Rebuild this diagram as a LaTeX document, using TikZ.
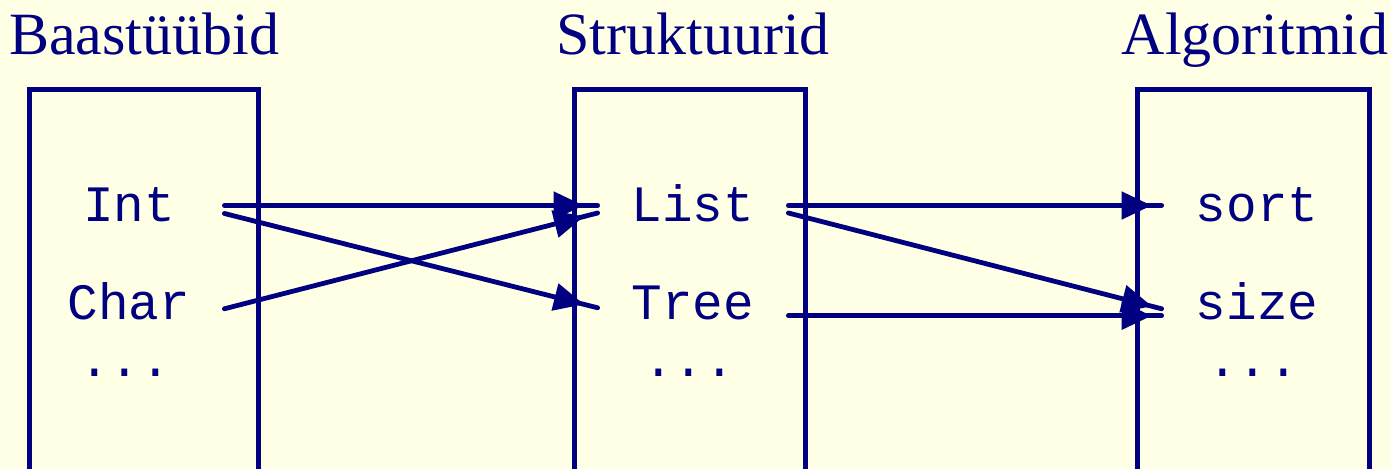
\documentclass[tikz,border=0pt]{standalone}
\usepackage{fontspec}
\setmainfont{Liberation Serif}
\setmonofont{Liberation Mono}
\usetikzlibrary{positioning}
\usetikzlibrary{arrows.meta}
\usetikzlibrary{decorations.markings}
\definecolor{navyline}{rgb}{0,0,.5}
\definecolor{paleyellow}{rgb}{1,1,.9}
\newcommand{\tname}[1]{{\fontsize{25.5}{25.5}\selectfont\ttfamily #1}}

\begin{document}
\begin{tikzpicture}[x=0.5pt,y=-0.5pt,
	every node/.style={text=navyline},
	heading/.style={font=\fontsize{30}{30}\selectfont,anchor=base,inner sep=0pt},
	entry/.style={minimum width=95pt,inner sep=0pt,text height=16.5pt,text depth=0pt},
	column/.style={draw=navyline,line width=2.5pt},
	link/.style={draw=navyline,line width=2.4pt,line cap=round,postaction={decorate},
		decoration={markings,mark=at position #1 with {\arrow{Triangle[length=15pt,width=13.5pt]}}}}]
		\clip (0,0) rectangle (1391,469);
		\fill[paleyellow] (0,0) rectangle (1391,469);
		% the three columns
		\draw[column] (29.5,90) rectangle (258.5,520);
		\draw[column] (574,90) rectangle (805,520);
		\draw[column] (1137.5,90) rectangle (1369.5,520);
		\node (h1) [heading] at (144,55) {Baastüübid};
		\node (h2) [heading] at (693,55) {Struktuurid};
		\node (h3) [heading] at (1255,55) {Algoritmid};
		% entries
		\node (int) [entry] at (129,205.5) {\tname{Int}};
		\node (char) [entry,below=32pt of int] {\tname{Char}};
		\node (dots1) [entry,below=11.5pt of char,xshift=-2pt] {\tname{...}};
		\node (list) [entry] at (693,205.5) {\tname{List}};
		\node (tree) [entry,below=32pt of list] {\tname{Tree}};
		\node (dots2) [entry,below=11.5pt of tree,xshift=-2pt] {\tname{...}};
		\node (sort) [entry] at (1257,205.5) {\tname{sort}};
		\node (size) [entry,below=32pt of sort] {\tname{size}};
		\node (dots3) [entry,below=11.5pt of size,xshift=-2pt] {\tname{...}};
		% links
		\draw[link=-7pt] (int.east) -- (list.west);
		\draw[link=-7pt] ([yshift=-4pt]int.east) -- ([yshift=-2.25pt]tree.west);
		\draw[link=-7pt] ([yshift=-2.75pt]char.east) -- ([yshift=-3.75pt]list.west);
		\draw[link=-5pt] (list.east) -- (sort.west);
		\draw[link=-5pt] ([yshift=-3.75pt]list.east) -- ([yshift=-2.75pt]size.west);
		\draw[link=-5pt] ([yshift=-6.25pt]tree.east) -- ([yshift=-6.25pt]size.west);
	\end{tikzpicture}
\end{document}
